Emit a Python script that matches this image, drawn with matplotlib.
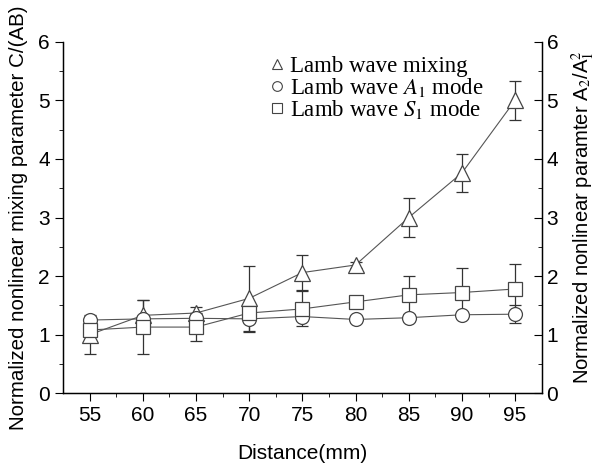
import numpy as np
import matplotlib
matplotlib.use('Agg')
import matplotlib.pyplot as plt

plt.rcParams['font.family'] = ['Liberation Sans', 'DejaVu Sans']
plt.rcParams['mathtext.fontset'] = 'stix'

distance = [55, 60, 65, 70, 75, 80, 85, 90, 95]

mixing = [1.0, 1.33, 1.37, 1.62, 2.06, 2.19, 3.0, 3.76, 5.0]
mixing_err = [0.33, 0.26, 0.1, 0.55, 0.3, 0.05, 0.33, 0.33, 0.33]

a1 = [1.25, 1.27, 1.28, 1.27, 1.31, 1.26, 1.29, 1.34, 1.35]
a1_err = [0.05, 0.05, 0.05, 0.23, 0.05, 0.04, 0.05, 0.05, 0.15]

s1 = [1.08, 1.13, 1.13, 1.37, 1.44, 1.56, 1.68, 1.72, 1.78]
s1_err = [0.1, 0.46, 0.24, 0.1, 0.3, 0.05, 0.33, 0.42, 0.43]

fig = plt.figure(figsize=(6.01, 4.69), dpi=100)
ax = fig.add_axes([63/601, 1-393.3/469, (541.7-63)/601, (393.3-41.7)/469])

series = [(mixing, mixing_err, '^', 'Lamb wave mixing'),
          (a1, a1_err, 'o', 'Lamb wave $A_1$ mode'),
          (s1, s1_err, 's', 'Lamb wave $S_1$ mode')]
handles = []
for vals, err, mk, lab in series:
    ax.errorbar(distance, vals, yerr=err, fmt='none', ecolor='#333333',
                elinewidth=0.9, capsize=4, capthick=0.9, zorder=2)
    ax.plot(distance, vals, color='#555555', lw=0.8, zorder=3)
    ms = 12 if mk == '^' else 10
    ax.plot(distance, vals, linestyle='none', marker=mk, ms=ms, mfc='white',
            mec='#444444', mew=0.9, zorder=4)
    h, = ax.plot([], [], linestyle='none', marker=mk, ms=7, mfc='white',
                 mec='#444444', mew=0.8, label=lab)
    handles.append(h)

ax.set_xlim(52.5, 97.5)
ax.set_ylim(0, 6)
ax.set_xticks(distance)
ax.set_xticks(np.arange(57.5, 97.5, 5), minor=True)
ax.set_yticks(range(0, 7))
ax.set_yticks(np.arange(0.5, 6, 1), minor=True)
ax.spines['top'].set_visible(False)
for s in ax.spines.values():
    s.set_linewidth(1.0)
ax.tick_params(which='both', direction='out', labelsize=15, right=False)
ax.tick_params(which='major', length=6)
ax.tick_params(which='minor', length=3)
ax.set_xlabel('Distance(mm)', fontsize=15, labelpad=13)
ax.set_ylabel('Normalized nonlinear mixing parameter C/(AB)', fontsize=14.8, labelpad=7)

ax2 = ax.twinx()
ax2.set_ylim(0, 6)
ax2.set_yticks(range(0, 7))
ax2.set_yticks(np.arange(0.5, 6, 1), minor=True)
ax2.spines['top'].set_visible(False)
ax2.tick_params(which='both', direction='in', labelsize=15)
ax2.tick_params(which='major', length=6)
ax2.tick_params(which='minor', length=3)
ax2.set_ylabel('Normalized nonlinear paramter A$_2$/A$_1^2$', fontsize=14.6, labelpad=8)

leg = ax.legend(handles=handles, loc='upper left', bbox_to_anchor=(0.39, 1.017),
                frameon=False, handletextpad=0.26, labelspacing=-0.05,
                handlelength=0.6, prop={'family': 'Liberation Serif', 'size': 16.5})

fig.savefig('out.png', dpi=100)
